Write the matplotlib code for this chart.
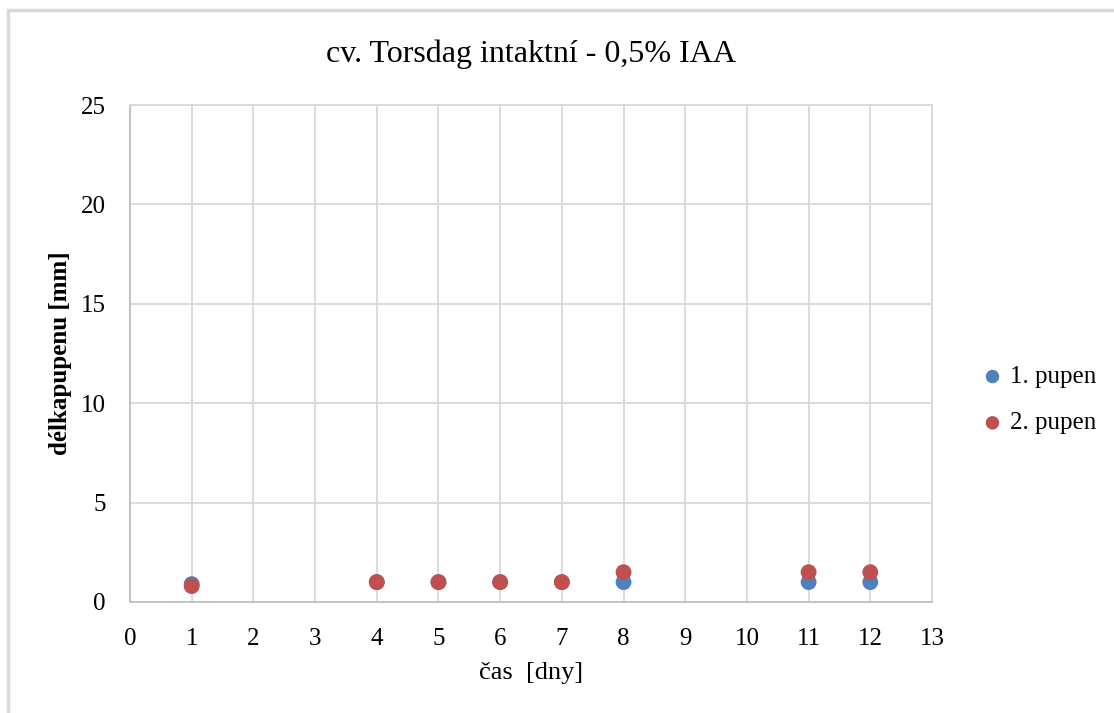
import matplotlib.pyplot as plt
from matplotlib.patches import Rectangle

plt.rcParams['font.family'] = ['Liberation Serif', 'DejaVu Serif']

title = "cv. Torsdag intaktní - 0,5% IAA"
xlabel = "čas  [dny]"
ylabel = "délkapupenu [mm]"

days = [1, 4, 5, 6, 7, 8, 11, 12]
bud1 = [0.9, 1.0, 1.0, 1.0, 1.0, 1.0, 1.0, 1.0]
bud2 = [0.8, 1.0, 1.0, 1.0, 1.0, 1.5, 1.5, 1.5]
series_names = ["1. pupen", "2. pupen"]

xticks = list(range(0, 14))
yticks = [0, 5, 10, 15, 20, 25]

W, H = 1114, 713
fig = plt.figure(figsize=(W / 100, H / 100), dpi=100)
# light grey chart-area border (only left/top visible in the reference crop)
fig.patches.append(Rectangle((8 / W, -0.2), 1.2, 1.2 - 10 / H, transform=fig.transFigure,
                             fill=False, edgecolor='#d9d9d9', linewidth=2.5))

ax = fig.add_axes([130 / W, (H - 602) / H, (932 - 130) / W, (602 - 105) / H])
ax.scatter(days, bud1, s=130, color='#4f81bd', zorder=3, label=series_names[0], edgecolors='none')
ax.scatter(days, bud2, s=130, color='#c0504d', zorder=3, label=series_names[1], edgecolors='none')

ax.set_xlim(0, 13)
ax.set_ylim(0, 25)
ax.set_xticks(xticks)
ax.set_yticks(yticks)
ax.grid(True, color='#d9d9d9', linewidth=1.3)
ax.set_axisbelow(True)
for s in ax.spines.values():
    s.set_color('#d9d9d9')
    s.set_linewidth(1.3)
ax.spines['left'].set_color('#c0c0c0')
ax.spines['bottom'].set_color('#c0c0c0')
ax.tick_params(length=0, labelsize=18)
ax.tick_params(axis='x', pad=18.5)
ax.tick_params(axis='y', pad=17.5)

ax.set_title(title, fontsize=23, pad=31)
ax.set_xlabel(xlabel, fontsize=19, labelpad=9)
ax.set_ylabel(ylabel, fontsize=18, fontweight='bold', labelpad=6)

fig.legend(loc='center left', bbox_to_anchor=(980 / W, 1 - 400 / H), frameon=False,
           fontsize=18, borderpad=0, borderaxespad=0, handlelength=1.0,
           handletextpad=0.2, labelspacing=0.95, markerscale=0.85)

fig.savefig("out.png", dpi=100)
